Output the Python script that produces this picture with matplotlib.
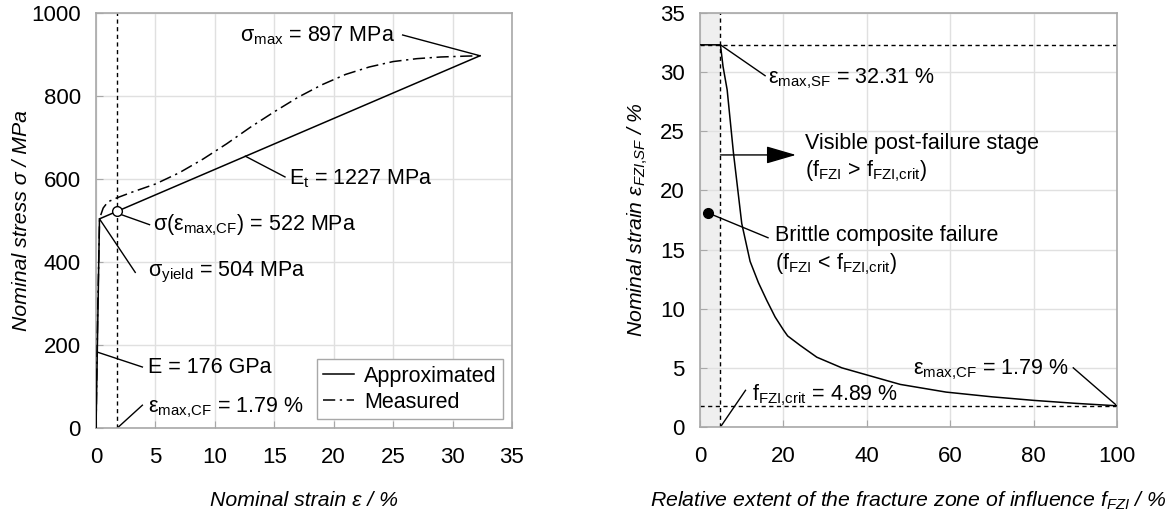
import numpy as np
import matplotlib
matplotlib.use('Agg')
import matplotlib.pyplot as plt

plt.rcParams['font.family'] = ['Liberation Sans', 'DejaVu Sans']
plt.rcParams['mathtext.fontset'] = 'custom'
plt.rcParams['mathtext.rm'] = 'Liberation Sans'
plt.rcParams['mathtext.it'] = 'Liberation Sans:italic'
plt.rcParams['mathtext.bf'] = 'Liberation Sans:bold'
plt.rcParams['font.size'] = 15.5

# left panel: stress-strain
approx_strain = [0, 0.29, 32.31]
approx_stress = [0, 504, 897]
meas_strain = [0, 0.15, 0.3, 0.6, 1.0, 1.79, 3, 5, 7, 9, 11, 13, 15, 17, 19, 21, 23, 25, 27, 29, 31, 32.31]
meas_stress = [0, 300, 505, 530, 545, 555, 568, 588, 615, 648, 685, 725, 762, 797, 827, 852, 870, 883, 890, 894, 896, 897]
eps_cf = 1.79
sig_cf = 522

# right panel: strain vs. fracture zone extent
f_fzi = [0, 4.89, 5.5, 6.5, 8, 10, 12, 14, 16, 18, 20, 21, 24, 28, 34, 40, 48, 59, 70, 80, 90, 100]
eps_fzi = [32.31, 32.31, 30.5, 28.5, 23.2, 17.2, 14.0, 12.2, 10.7, 9.3, 8.2, 7.7, 6.9, 5.9, 5.0, 4.4, 3.6, 2.95, 2.55, 2.25, 2.0, 1.79]
f_crit = 4.89
eps_sf = 32.31
brittle_pt = (1.9, 18.1)

gridc = '#e0e0e0'
spinec = '#a8a8a8'
lw = 1.1
fs = 15.5

fig = plt.figure(figsize=(11.74, 5.18), dpi=100)
ax1 = fig.add_axes([0.0818, 0.1737, 0.3543, 0.8012])
ax2 = fig.add_axes([0.5963, 0.1757, 0.3552, 0.7992])

for ax in (ax1, ax2):
    ax.grid(True, color=gridc, lw=1.0)
    ax.set_axisbelow(True)
    for s in ax.spines.values():
        s.set_color(spinec)
        s.set_linewidth(1.2)
    ax.tick_params(direction='in', color=spinec, length=5, labelsize=16)
    ax.tick_params(axis='x', pad=14)
    ax.tick_params(axis='y', pad=11)

# ---- left
ax1.plot(approx_strain, approx_stress, 'k-', lw=lw, label='Approximated', zorder=3)
ax1.plot(meas_strain, meas_stress, color='k', lw=lw, dashes=(8, 3, 1.5, 3), label='Measured', zorder=3)
ax1.axvline(eps_cf, color='k', lw=1.0, dashes=(3, 2.5), zorder=2)
ax1.plot([eps_cf], [sig_cf], 'o', mfc='white', mec='k', ms=7, mew=1.0, zorder=4)
ax1.set_xlim(0, 35)
ax1.set_ylim(0, 1000)
ax1.set_xticks(np.arange(0, 36, 5))
ax1.set_yticks(np.arange(0, 1001, 200))

ax1.plot([25.8, 32.31], [947, 897], 'k-', lw=1.0)
ax1.text(12.1, 945, 'σ$_\\mathrm{max}$ = 897 MPa', ha='left', va='center')
ax1.plot([15.9, 12.56], [605, 655], 'k-', lw=1.0)
ax1.text(16.2, 600, 'E$_\\mathrm{t}$ = 1227 MPa', ha='left', va='center')
ax1.plot([4.5, eps_cf + 0.35], [490, sig_cf - 8], 'k-', lw=1.0)
ax1.text(4.8, 488, 'σ(ε$_\\mathrm{max{,}CF}$) = 522 MPa', ha='left', va='center')
ax1.plot([3.3, 0.29], [375, 504], 'k-', lw=1.0)
ax1.text(4.4, 375, 'σ$_\\mathrm{yield}$ = 504 MPa', ha='left', va='center')
ax1.plot([3.9, 0.1], [147, 183], 'k-', lw=1.0)
ax1.text(4.4, 147, 'E = 176 GPa', ha='left', va='center')
ax1.plot([3.9, eps_cf], [55, 0], 'k-', lw=1.0)
ax1.text(4.4, 48, 'ε$_\\mathrm{max{,}CF}$ = 1.79 %', ha='left', va='center')

leg = ax1.legend(loc='lower right', fontsize=fs, fancybox=False, framealpha=1,
                 edgecolor=spinec, handlelength=1.4, borderaxespad=0.4, borderpad=0.3,
                 labelspacing=0.25, handletextpad=0.5)
leg.get_frame().set_linewidth(1.0)

ax1.set_xlabel('Nominal strain ε / %', style='italic', fontsize=15.3, labelpad=16)
ax1.set_ylabel('Nominal stress σ / MPa', style='italic', fontsize=15.3, labelpad=0)

# ---- right
ax2.axvspan(0, f_crit, color='#efefef', zorder=0.5, lw=0)
ax2.axvline(f_crit, color='k', lw=1.0, dashes=(3, 2.5), zorder=2)
ax2.axhline(eps_sf, color='k', lw=1.0, dashes=(3, 2.5), zorder=2)
ax2.axhline(eps_cf, color='k', lw=1.0, dashes=(3, 2.5), zorder=2)
ax2.plot(f_fzi, eps_fzi, 'k-', lw=lw, zorder=3)
ax2.plot([brittle_pt[0]], [brittle_pt[1]], 'ko', ms=7, zorder=4)
ax2.set_xlim(0, 100)
ax2.set_ylim(0, 35)
ax2.set_xticks(np.arange(0, 101, 20))
ax2.set_yticks(np.arange(0, 36, 5))

ax2.plot([15.6, f_crit], [29.7, eps_sf], 'k-', lw=1.0)
ax2.text(16.3, 29.4, 'ε$_\\mathrm{max{,}SF}$ = 32.31 %', ha='left', va='center')
ax2.annotate('', xy=(23, 23), xytext=(f_crit, 23),
             arrowprops=dict(arrowstyle='-|>,head_length=1.2,head_width=0.35', color='k', lw=1.0,
                             shrinkA=0, shrinkB=0))
ax2.text(25.2, 24.0, 'Visible post-failure stage', ha='left', va='center')
ax2.text(25.2, 21.6, '(f$_\\mathrm{FZI}$ > f$_\\mathrm{FZI{,}crit}$)', ha='left', va='center')
ax2.plot([brittle_pt[0], 16.3], [brittle_pt[1], 16.0], 'k-', lw=1.0)
ax2.text(18.0, 16.2, 'Brittle composite failure', ha='left', va='center')
ax2.text(18.0, 13.8, '(f$_\\mathrm{FZI}$ < f$_\\mathrm{FZI{,}crit}$)', ha='left', va='center')
ax2.plot([10.9, f_crit], [3.1, 0], 'k-', lw=1.0)
ax2.text(12.5, 2.7, 'f$_\\mathrm{FZI{,}crit}$ = 4.89 %', ha='left', va='center')
ax2.plot([89.5, 100], [5.0, eps_cf], 'k-', lw=1.0)
ax2.text(51, 4.8, 'ε$_\\mathrm{max{,}CF}$ = 1.79 %', ha='left', va='center')

ax2.set_xlabel('Relative extent of the fracture zone of influence f$_{FZI}$ / %',
               style='italic', fontsize=15.3, labelpad=16)
ax2.set_ylabel('Nominal strain ε$_{FZI{,}SF}$ / %', style='italic', fontsize=15.3, labelpad=7)

fig.savefig('out.png', dpi=100)
